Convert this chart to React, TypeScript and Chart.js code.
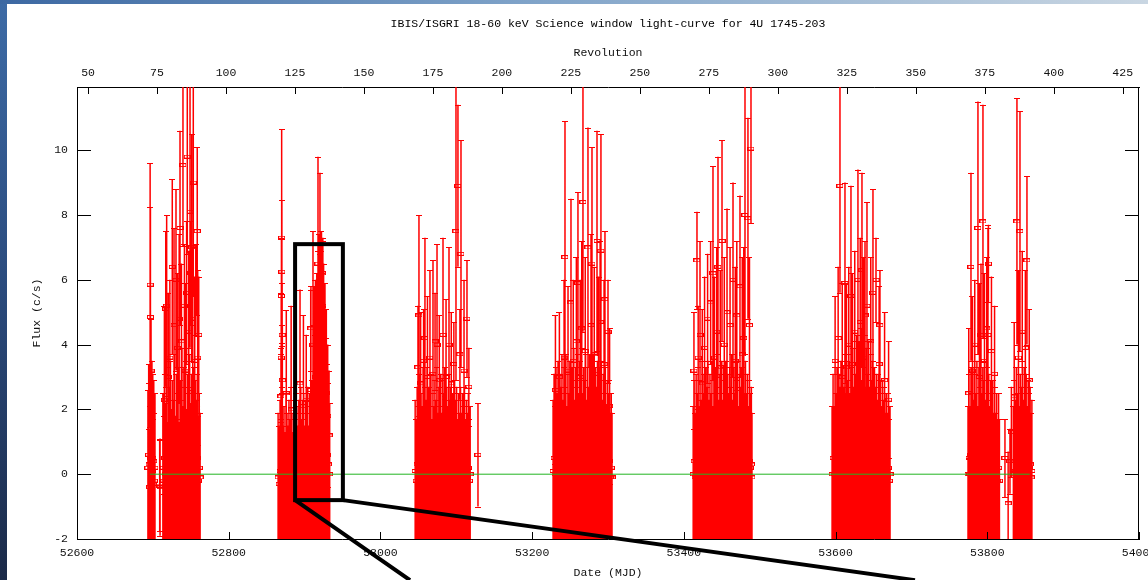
import React, { useEffect, useRef } from 'react';
import { Chart, registerables } from 'chart.js';

Chart.register(...registerables);

const TITLE = 'IBIS/ISGRI 18-60 keV Science window light-curve for 4U 1745-203';
const X_LABEL = 'Date (MJD)';
const X2_LABEL = 'Revolution';
const Y_LABEL = 'Flux (c/s)';

const mjdRange = [52600, 54000];
const revRange = [46.0, 430.9];
const fluxRange = [-2, 11.95];
const mjdStep = 200;
const revStep = 25;
const fluxStep = 2;

type Pt = [number, number, number]; // [MJD, flux (c/s), flux error]

const season1Base: Pt[] = [
  [52693.5, 0.2, 2.4], [52694.5, 0.6, 2.8], [52695.0, 0.3, 2.5], [52695.5, -0.4, 1.8],
  [52697.2, 0.5, 2.6], [52697.9, 0.0, 2.2], [52698.4, 0.7, 2.8], [52699.2, 0.1, 2.3],
  [52699.9, 0.5, 2.6], [52700.6, -0.3, 2.0], [52701.2, 0.4, 2.5], [52701.9, -0.2, 2.1],
  [52702.8, 0.2, 2.3], [52709.0, -0.35, 1.4], [52709.5, -0.4, 1.5],
  [52713.2, 0.2, 2.3], [52714.4, -0.2, 2.0], [52715.6, 0.5, 2.6], [52716.9, 0.0, 2.2],
  [52718.1, 0.6, 2.7], [52719.4, -0.3, 1.9], [52720.6, 0.3, 2.4], [52721.9, 0.1, 2.2],
  [52723.2, 0.7, 2.8], [52724.4, -0.1, 2.1], [52725.7, 0.4, 2.5], [52727.0, 0.0, 2.3],
  [52728.2, 0.8, 2.9], [52729.5, -0.2, 2.0], [52730.8, 0.5, 2.6], [52732.0, 0.2, 2.3],
  [52733.3, 0.6, 2.7], [52734.6, -0.3, 1.9], [52735.8, 0.4, 2.5], [52737.1, 0.1, 2.2],
  [52738.4, 0.9, 3.0], [52739.6, 0.0, 2.1], [52740.9, 0.6, 2.7], [52742.2, 0.3, 2.4],
  [52743.4, 0.7, 2.8], [52744.7, -0.1, 2.1], [52746.0, 0.5, 2.6], [52747.2, 0.2, 2.3],
  [52748.5, 0.8, 2.9], [52749.8, 0.0, 2.2], [52751.0, 0.5, 2.6], [52752.3, 0.3, 2.4],
  [52753.6, 0.6, 2.7], [52754.8, -0.1, 2.1], [52756.1, 0.4, 2.5], [52757.4, 0.1, 2.2],
  [52758.6, 0.5, 2.6], [52759.9, -0.2, 2.0], [52761.2, 0.2, 2.3], [52762.3, -0.1, 2.0],
];
const season1Peaks: Pt[] = [
  [52696.4, 5.85, 3.75], [52696.8, 4.85, 3.4], [52697.6, 3.2, 1.6], [52698.8, 2.3, 1.2],
  [52715.2, 2.3, 2.9], [52717.0, 5.1, 2.4], [52718.2, 5.2, 2.8], [52720.3, 3.0, 2.6],
  [52722.4, 3.6, 2.4], [52725.6, 6.4, 2.7], [52727.9, 4.6, 3.0], [52730.5, 6.0, 2.8],
  [52732.5, 3.9, 2.3], [52734.7, 4.8, 2.6], [52735.8, 7.6, 3.0], [52737.7, 4.1, 2.4],
  [52739.7, 9.54, 2.5], [52741.6, 5.2, 1.9], [52742.5, 3.2, 2.7], [52744.5, 5.6, 2.2],
  [52745.4, 9.8, 3.0], [52747.3, 4.4, 2.5], [52749.0, 8.1, 4.2], [52750.1, 6.2, 1.6],
  [52751.2, 7.0, 3.5], [52752.6, 4.8, 2.2], [52753.3, 9.0, 3.5], [52755.2, 3.5, 2.6],
  [52756.6, 5.7, 1.4], [52758.5, 7.5, 2.6], [52759.1, 3.6, 2.7], [52760.5, 4.3, 1.8],
];

const season2Base: Pt[] = [
  [52865.1, -0.1, 2.0], [52866.4, -0.3, 1.8], [52867.7, 0.1, 2.2], [52869.0, -0.2, 1.9],
  [52870.3, 0.2, 2.3], [52871.6, -0.3, 1.8], [52872.9, 0.0, 2.1], [52874.2, -0.4, 1.7],
  [52875.5, 0.2, 2.3], [52876.8, -0.1, 2.0], [52878.1, -0.3, 1.8], [52879.4, 0.1, 2.2],
  [52880.7, -0.2, 1.9], [52882.0, 0.3, 2.4], [52883.3, -0.1, 2.0], [52884.6, -0.4, 1.7],
  [52885.9, 0.1, 2.2], [52887.2, -0.2, 1.9], [52888.5, 0.2, 2.3], [52889.8, 0.0, 2.1],
  [52891.1, -0.3, 1.8], [52892.4, 0.1, 2.2], [52893.7, -0.1, 2.0], [52895.0, 0.3, 2.4],
  [52896.3, -0.2, 1.9], [52897.6, 0.1, 2.2], [52898.9, 0.2, 2.3], [52900.2, -0.3, 1.8],
  [52901.5, 0.1, 2.2], [52902.8, -0.1, 2.0], [52904.1, 0.3, 2.4], [52905.4, -0.3, 1.8],
  [52906.7, 0.2, 2.3], [52908.0, 0.0, 2.1], [52909.3, 0.4, 2.5], [52910.6, 0.1, 2.2],
  [52911.6, 1.2, 3.4], [52912.5, 2.6, 3.2], [52913.4, 1.0, 3.3], [52914.3, 3.0, 3.0],
  [52915.2, 1.5, 3.7], [52916.1, 3.4, 2.8], [52917.0, 1.3, 3.5], [52917.9, 3.8, 3.1],
  [52918.8, 1.8, 4.0], [52919.7, 3.6, 3.2], [52920.6, 1.6, 3.8], [52921.5, 4.0, 2.9],
  [52922.4, 2.0, 4.2], [52923.3, 3.2, 3.3], [52924.2, 1.4, 3.6], [52925.1, 3.5, 3.0],
  [52926.0, 1.2, 3.4], [52926.9, 2.8, 3.1], [52927.8, 1.0, 3.2], [52928.7, 2.5, 2.6],
  [52929.6, 0.6, 2.8], [52930.5, 1.8, 2.2], [52931.4, 0.3, 2.5], [52932.3, 1.2, 2.0],
  [52933.1, 0.0, 2.2],
];
const season2Peaks: Pt[] = [
  [52868.9, 2.4, 1.5], [52869.2, 3.6, 2.0], [52869.5, 5.5, 1.8], [52869.8, 7.3, 3.35],
  [52870.1, 6.25, 2.2], [52870.4, 4.3, 1.6], [52870.7, 2.9, 1.7], [52875.9, 2.5, 2.56],
  [52882.3, 2.0, 3.2], [52894.0, 2.8, 2.9], [52898.5, 2.1, 2.8], [52902.2, 2.3, 2.0],
  [52908.1, 2.6, 3.1], [52908.4, 4.5, 1.3], [52911.1, 4.0, 3.5], [52917.7, 6.5, 3.3],
  [52919.0, 5.5, 1.9], [52920.3, 5.8, 3.5], [52922.3, 4.9, 2.6], [52923.7, 6.2, 1.0],
  [52924.1, 5.2, 2.1],
];

const season3Base: Pt[] = [
  [53045.8, 0.1, 2.2], [53047.1, -0.2, 1.9], [53048.4, 0.3, 2.4], [53049.7, 0.0, 2.1],
  [53051.0, 0.5, 2.6], [53052.3, -0.3, 1.8], [53053.6, 0.2, 2.3], [53054.9, 0.0, 2.1],
  [53056.2, 0.6, 2.7], [53057.5, -0.1, 2.0], [53058.8, 0.3, 2.4], [53060.1, 0.1, 2.2],
  [53061.4, 0.6, 2.7], [53062.7, -0.2, 1.9], [53064.0, 0.3, 2.4], [53065.3, 0.0, 2.1],
  [53066.6, 0.5, 2.6], [53067.9, -0.2, 1.9], [53069.2, 0.2, 2.3], [53070.5, 0.0, 2.1],
  [53071.8, 0.4, 2.5], [53073.1, 0.1, 2.2], [53074.4, 0.6, 2.7], [53075.7, -0.1, 2.0],
  [53077.0, 0.3, 2.4], [53078.3, 0.0, 2.1], [53079.6, 0.5, 2.6], [53080.9, -0.1, 2.0],
  [53082.2, 0.4, 2.5], [53083.5, 0.2, 2.3], [53084.8, 0.6, 2.7], [53086.1, -0.2, 1.9],
  [53087.4, 0.3, 2.4], [53088.7, 0.0, 2.1], [53090.0, 0.5, 2.6], [53091.3, 0.1, 2.2],
  [53092.6, 0.3, 2.4], [53093.9, -0.1, 2.0], [53095.2, 0.2, 2.3], [53096.5, 0.0, 2.1],
  [53097.8, 0.4, 2.5], [53099.1, 0.1, 2.2], [53100.4, 0.3, 2.4], [53101.7, -0.2, 1.9],
  [53103.0, 0.2, 2.3], [53104.3, -0.1, 2.0], [53105.6, 0.3, 2.4], [53106.9, -0.1, 2.0],
  [53108.2, 0.2, 2.3], [53109.5, 0.0, 2.1], [53110.8, 0.3, 2.4], [53112.1, -0.2, 1.9],
  [53113.4, 0.1, 2.2], [53114.7, -0.1, 2.0], [53116.0, 0.2, 2.3], [53117.3, -0.2, 1.9],
  [53118.3, 0.0, 2.1],
];
const season3Peaks: Pt[] = [
  [53049.5, 3.3, 1.9], [53050.8, 4.9, 3.1], [53053.0, 2.8, 2.2], [53056.9, 3.5, 1.6],
  [53058.7, 4.2, 3.1], [53062.0, 3.0, 2.5], [53065.3, 3.6, 2.7], [53069.3, 3.1, 3.5],
  [53072.0, 4.1, 1.5], [53074.6, 4.0, 3.1], [53077.6, 2.9, 2.0], [53082.5, 4.3, 3.0],
  [53086.5, 3.0, 2.4], [53090.4, 4.0, 3.0], [53093.4, 2.8, 2.2], [53096.8, 3.4, 1.3],
  [53099.6, 7.5, 4.6], [53102.2, 8.9, 2.5], [53104.8, 3.7, 1.4], [53106.2, 6.8, 3.5],
  [53110.2, 3.2, 2.8], [53114.1, 4.8, 1.8], [53116.6, 2.7, 1.2], [53128.6, 0.6, 1.6],
];

const season4Base: Pt[] = [
  [53227.6, 0.1, 2.2], [53228.9, 0.5, 2.6], [53230.2, 0.0, 2.1], [53231.5, 0.6, 2.7],
  [53232.8, 0.2, 2.3], [53234.1, 0.7, 2.8], [53235.4, 0.1, 2.2], [53236.7, 0.5, 2.6],
  [53238.0, 0.3, 2.4], [53239.3, 0.8, 2.9], [53240.6, 0.1, 2.2], [53241.9, 0.6, 2.7],
  [53243.2, 0.3, 2.4], [53244.5, 0.8, 2.9], [53245.8, 0.0, 2.1], [53247.1, 0.5, 2.6],
  [53248.4, 0.2, 2.3], [53249.7, 0.7, 2.8], [53251.0, 0.2, 2.3], [53252.3, 0.6, 2.7],
  [53253.6, 0.4, 2.5], [53254.9, 0.9, 3.0], [53256.2, 0.1, 2.2], [53257.5, 0.6, 2.7],
  [53258.8, 0.3, 2.4], [53260.1, 0.8, 2.9], [53261.4, 0.2, 2.3], [53262.7, 0.7, 2.8],
  [53264.0, 0.4, 2.5], [53265.3, 0.9, 3.0], [53266.6, 0.2, 2.3], [53267.9, 0.6, 2.7],
  [53269.2, 0.4, 2.5], [53270.5, 0.8, 2.9], [53271.8, 0.1, 2.2], [53273.1, 0.6, 2.7],
  [53274.4, 0.3, 2.4], [53275.7, 0.8, 2.9], [53277.0, 0.2, 2.3], [53278.3, 0.7, 2.8],
  [53279.6, 0.4, 2.5], [53280.9, 0.8, 2.9], [53282.2, 0.0, 2.1], [53283.5, 0.6, 2.7],
  [53284.8, 0.3, 2.4], [53286.1, 0.7, 2.8], [53287.4, 0.2, 2.3], [53288.7, 0.6, 2.7],
  [53290.0, 0.4, 2.5], [53291.3, 0.7, 2.8], [53292.6, 0.1, 2.2], [53293.9, 0.5, 2.6],
  [53295.2, 0.2, 2.3], [53296.5, 0.6, 2.7], [53297.8, 0.0, 2.1], [53299.1, 0.4, 2.5],
  [53300.4, 0.2, 2.3], [53301.7, 0.4, 2.5], [53303.0, -0.1, 2.0], [53304.3, 0.2, 2.3],
  [53305.3, -0.1, 2.0],
];
const season4Peaks: Pt[] = [
  [53230.7, 2.6, 2.3], [53235.9, 3.0, 2.0], [53242.1, 3.6, 2.4], [53243.3, 6.7, 4.2],
  [53247.3, 3.2, 2.6], [53251.2, 5.3, 3.2], [53254.2, 3.5, 2.5], [53258.3, 4.1, 2.6],
  [53260.4, 5.9, 2.8], [53263.4, 3.0, 3.0], [53265.4, 4.5, 2.7], [53267.0, 8.4, 4.0],
  [53270.0, 3.8, 2.9], [53273.6, 7.0, 3.7], [53277.6, 4.6, 2.8], [53278.9, 6.5, 3.6],
  [53281.9, 3.7, 2.7], [53285.5, 7.2, 3.4], [53287.5, 3.1, 3.0], [53289.6, 4.7, 2.5],
  [53290.7, 6.9, 3.6], [53294.8, 3.4, 2.6], [53296.0, 5.4, 2.1], [53300.0, 4.4, 1.6],
  [53302.1, 2.1, 2.4],
];

const season5Base: Pt[] = [
  [53412.3, 0.0, 2.1], [53413.6, 0.4, 2.5], [53414.9, -0.1, 2.0], [53416.2, 0.5, 2.6],
  [53417.5, 0.2, 2.3], [53418.8, 0.6, 2.7], [53420.1, 0.0, 2.1], [53421.4, 0.4, 2.5],
  [53422.7, 0.1, 2.2], [53424.0, 0.7, 2.8], [53425.3, 0.2, 2.3], [53426.6, 0.5, 2.6],
  [53427.9, 0.0, 2.1], [53429.2, 0.6, 2.7], [53430.5, 0.3, 2.4], [53431.8, 0.7, 2.8],
  [53433.1, 0.1, 2.2], [53434.4, 0.5, 2.6], [53435.7, 0.2, 2.3], [53437.0, 0.7, 2.8],
  [53438.3, 0.0, 2.1], [53439.6, 0.4, 2.5], [53440.9, 0.2, 2.3], [53442.2, 0.6, 2.7],
  [53443.5, 0.3, 2.4], [53444.8, 0.8, 2.9], [53446.1, 0.1, 2.2], [53447.4, 0.5, 2.6],
  [53448.7, 0.2, 2.3], [53450.0, 0.7, 2.8], [53451.3, 0.1, 2.2], [53452.6, 0.6, 2.7],
  [53453.9, 0.4, 2.5], [53455.2, 0.7, 2.8], [53456.5, 0.0, 2.1], [53457.8, 0.5, 2.6],
  [53459.1, 0.2, 2.3], [53460.4, 0.6, 2.7], [53461.7, 0.3, 2.4], [53463.0, 0.8, 2.9],
  [53464.3, 0.1, 2.2], [53465.6, 0.6, 2.7], [53466.9, 0.2, 2.3], [53468.2, 0.7, 2.8],
  [53469.5, 0.4, 2.5], [53470.8, 0.7, 2.8], [53472.1, 0.0, 2.1], [53473.4, 0.5, 2.6],
  [53474.7, 0.3, 2.4], [53476.0, 0.6, 2.7], [53477.3, 0.1, 2.2], [53478.6, 0.6, 2.7],
  [53479.9, 0.2, 2.3], [53481.2, 0.7, 2.8], [53482.5, 0.2, 2.3], [53483.8, 0.5, 2.6],
  [53485.1, 0.0, 2.1], [53486.4, 0.4, 2.5], [53487.7, 0.2, 2.3], [53489.0, 0.3, 2.4],
  [53489.8, -0.1, 2.0],
];
const season5Peaks: Pt[] = [
  [53413.3, 3.2, 1.8], [53417.3, 6.6, 1.5], [53418.9, 3.6, 1.6], [53421.3, 4.3, 2.9],
  [53424.3, 2.8, 2.3], [53427.3, 3.9, 2.2], [53431.3, 4.8, 2.0], [53435.3, 5.3, 1.9],
  [53438.4, 6.2, 3.3], [53440.4, 3.6, 2.5], [53443.4, 4.4, 2.6], [53445.0, 6.4, 3.4],
  [53448.0, 3.3, 3.0], [53450.3, 7.2, 3.1], [53453.3, 4.0, 2.7], [53456.9, 5.0, 3.2],
  [53460.9, 4.6, 2.4], [53464.8, 6.0, 3.0], [53467.8, 3.5, 2.9], [53469.8, 4.9, 2.3],
  [53474.0, 5.8, 2.8], [53477.0, 3.7, 3.0], [53479.0, 4.2, 2.8], [53480.6, 8.0, 4.3],
  [53484.5, 7.9, 3.1], [53486.5, 4.6, 2.1], [53488.5, 10.05, 2.3],
];

const season6Base: Pt[] = [
  [53595.4, 0.0, 2.1], [53596.7, 0.5, 2.6], [53598.0, 0.0, 2.1], [53599.3, 0.6, 2.7],
  [53600.6, 0.2, 2.3], [53601.9, 0.6, 2.7], [53603.2, 0.1, 2.2], [53604.5, 0.5, 2.6],
  [53605.8, 0.3, 2.4], [53607.1, 0.7, 2.8], [53608.4, 0.1, 2.2], [53609.7, 0.6, 2.7],
  [53611.0, 0.3, 2.4], [53612.3, 0.8, 2.9], [53613.6, 0.2, 2.3], [53614.9, 0.7, 2.8],
  [53616.2, 0.4, 2.5], [53617.5, 0.8, 2.9], [53618.8, 0.2, 2.3], [53620.1, 0.6, 2.7],
  [53621.4, 0.3, 2.4], [53622.7, 0.9, 3.0], [53624.0, 0.3, 2.4], [53625.3, 1.0, 3.1],
  [53626.6, 0.5, 2.6], [53627.9, 1.1, 3.2], [53629.2, 0.3, 2.4], [53630.5, 1.0, 3.1],
  [53631.8, 0.6, 2.7], [53633.1, 1.2, 3.3], [53634.4, 0.4, 2.5], [53635.7, 1.0, 3.1],
  [53637.0, 0.6, 2.7], [53638.3, 1.1, 3.2], [53639.6, 0.3, 2.4], [53640.9, 0.9, 3.0],
  [53642.2, 0.5, 2.6], [53643.5, 1.0, 3.1], [53644.8, 0.3, 2.4], [53646.1, 0.8, 2.9],
  [53647.4, 0.4, 2.5], [53648.7, 0.7, 2.8], [53650.0, 0.2, 2.3], [53651.3, 0.6, 2.7],
  [53652.6, 0.3, 2.4], [53653.9, 0.5, 2.6], [53655.2, 0.1, 2.2], [53656.5, 0.5, 2.6],
  [53657.8, 0.2, 2.3], [53659.1, 0.4, 2.5], [53660.4, 0.0, 2.1], [53661.7, 0.4, 2.5],
  [53663.0, 0.1, 2.2], [53664.3, 0.3, 2.4], [53665.6, -0.1, 2.0], [53666.9, 0.2, 2.3],
  [53668.2, -0.1, 2.0], [53669.5, 0.2, 2.3], [53670.8, -0.2, 1.9], [53671.8, 0.0, 2.1],
];
const season6Peaks: Pt[] = [
  [53599.4, 3.5, 2.0], [53603.4, 4.2, 2.2], [53605.8, 8.9, 3.3], [53608.8, 3.0, 2.9],
  [53612.4, 5.9, 3.1], [53614.4, 3.3, 2.6], [53617.4, 4.0, 2.4], [53620.3, 5.5, 3.4],
  [53622.3, 3.4, 2.8], [53625.3, 4.4, 2.5], [53629.5, 6.0, 3.4], [53632.5, 4.7, 2.6],
  [53634.8, 6.3, 3.0], [53636.8, 3.6, 3.1], [53638.8, 4.9, 2.3], [53641.4, 5.2, 3.2],
  [53646.4, 4.1, 2.6], [53649.3, 5.6, 3.2], [53653.3, 6.0, 1.3], [53657.4, 3.4, 2.4],
  [53658.5, 4.6, 1.7], [53664.6, 2.9, 2.1], [53669.9, 2.3, 1.8],
];

const season7Base: Pt[] = [
  [53774.6, 0.0, 2.1], [53775.9, 0.5, 2.6], [53777.2, 0.0, 2.1], [53778.5, 0.6, 2.7],
  [53779.8, 0.2, 2.3], [53781.1, 0.6, 2.7], [53782.4, 0.1, 2.2], [53783.7, 0.5, 2.6],
  [53785.0, 0.2, 2.3], [53786.3, 0.7, 2.8], [53787.6, 0.0, 2.1], [53788.9, 0.6, 2.7],
  [53790.2, 0.3, 2.4], [53791.5, 0.7, 2.8], [53792.8, 0.2, 2.3], [53794.1, 0.6, 2.7],
  [53795.4, 0.4, 2.5], [53796.7, 0.7, 2.8], [53798.0, 0.1, 2.2], [53799.3, 0.6, 2.7],
  [53800.6, 0.2, 2.3], [53801.9, 0.5, 2.6], [53803.2, 0.0, 2.1], [53804.5, 0.4, 2.5],
  [53805.8, 0.2, 2.3], [53807.1, 0.4, 2.5], [53808.4, -0.1, 2.0], [53809.7, 0.3, 2.4],
  [53811.0, -0.1, 2.0], [53812.3, 0.2, 2.3], [53813.6, -0.2, 1.9], [53814.9, 0.2, 2.3],
  [53816.0, -0.2, 1.9], [53823.3, 0.5, 1.2], [53827.5, -0.9, 1.6], [53829.9, 0.4, 1.0],
  [53831.8, 1.3, 1.4], [53834.4, 0.0, 2.1], [53835.7, 0.4, 2.5], [53837.0, 0.1, 2.2],
  [53838.3, 0.6, 2.7], [53839.6, 0.2, 2.3], [53840.9, 0.6, 2.7], [53842.2, 0.0, 2.1],
  [53843.5, 0.5, 2.6], [53844.8, 0.3, 2.4], [53846.1, 0.7, 2.8], [53847.4, 0.1, 2.2],
  [53848.7, 0.6, 2.7], [53850.0, 0.2, 2.3], [53851.3, 0.5, 2.6], [53852.6, 0.0, 2.1],
  [53853.9, 0.4, 2.5], [53855.2, 0.2, 2.3], [53856.5, 0.3, 2.4], [53857.8, -0.1, 2.0],
  [53858.8, 0.1, 2.2],
];
const season7Peaks: Pt[] = [
  [53775.6, 2.5, 2.0], [53778.5, 6.4, 2.9], [53780.5, 3.2, 2.3], [53783.5, 4.0, 2.0],
  [53787.7, 7.6, 3.9], [53789.7, 3.0, 2.9], [53791.7, 4.3, 2.2], [53794.3, 7.8, 3.6],
  [53796.3, 3.5, 2.7], [53799.3, 4.5, 2.2], [53800.9, 4.3, 3.3], [53801.5, 6.5, 1.2],
  [53805.5, 3.8, 2.3], [53809.6, 3.1, 2.1], [53835.5, 2.4, 2.3], [53839.1, 7.8, 3.8],
  [53841.1, 3.6, 2.7], [53843.1, 7.5, 3.7], [53846.1, 4.4, 2.5], [53850.2, 3.9, 2.4],
  [53852.3, 6.6, 2.6], [53855.3, 2.9, 2.2],
];

// constant (zero) level over the data span
const zeroLineMjd = [52696, 53856];
const zeroLineFlux = [0, 0];

// slide annotation: zoom box (data coords) and rays leading out of the figure
const zoomBoxMjd = [52887.5, 52950.5];
const zoomBoxFlux = [-0.8, 7.1];
const zoomRayEndMjd = [53039, 53704.7];
const zoomRayEndFlux = [-3.27, -3.27];

const RED = '#ff0000';
const GREEN = '#22b422';
const MONO = 'Liberation Mono';

const allPoints: Pt[] = [
  ...season1Base, ...season1Peaks, ...season2Base, ...season2Peaks,
  ...season3Base, ...season3Peaks, ...season4Base, ...season4Peaks,
  ...season5Base, ...season5Peaks, ...season6Base, ...season6Peaks,
  ...season7Base, ...season7Peaks,
];

function makeMarker(): HTMLCanvasElement {
  const c = document.createElement('canvas');
  c.width = 7;
  c.height = 4;
  const g = c.getContext('2d')!;
  g.strokeStyle = RED;
  g.lineWidth = 1;
  g.strokeRect(0.5, 0.5, 6, 3);
  return c;
}

const errorBarPlugin = {
  id: 'errorBars',
  beforeDatasetsDraw(chart: any) {
    const { ctx, chartArea: a, scales } = chart;
    const x = scales.x;
    const y = scales.y;
    ctx.save();
    ctx.beginPath();
    ctx.rect(a.left, a.top, a.right - a.left, a.bottom - a.top);
    ctx.clip();
    ctx.strokeStyle = RED;
    ctx.lineWidth = 1.5;
    ctx.beginPath();
    for (const [m, f, e] of allPoints) {
      const px = x.getPixelForValue(m);
      ctx.moveTo(px, y.getPixelForValue(f + e));
      ctx.lineTo(px, y.getPixelForValue(f - e));
    }
    ctx.stroke();
    ctx.lineWidth = 1;
    ctx.beginPath();
    for (const [m, f, e] of allPoints) {
      const px = Math.round(x.getPixelForValue(m));
      const top = Math.round(y.getPixelForValue(f + e)) + 0.5;
      const bot = Math.round(y.getPixelForValue(f - e)) + 0.5;
      ctx.moveTo(px - 3, top);
      ctx.lineTo(px + 3, top);
      ctx.moveTo(px - 3, bot);
      ctx.lineTo(px + 3, bot);
    }
    ctx.stroke();
    ctx.restore();
  },
};

const ticksPlugin = {
  id: 'inwardTicks',
  afterDatasetsDraw(chart: any) {
    const { ctx, chartArea: a, scales } = chart;
    ctx.save();
    ctx.strokeStyle = '#000';
    ctx.lineWidth = 1;
    ctx.beginPath();
    for (const t of scales.x.ticks) {
      const px = Math.round(scales.x.getPixelForValue(t.value)) + 0.5;
      ctx.moveTo(px, a.bottom);
      ctx.lineTo(px, a.bottom - 7);
    }
    for (const t of scales.x2.ticks) {
      const px = Math.round(scales.x2.getPixelForValue(t.value)) + 0.5;
      ctx.moveTo(px, a.top);
      ctx.lineTo(px, a.top + 7);
    }
    for (const t of scales.y.ticks) {
      const py = Math.round(scales.y.getPixelForValue(t.value)) + 0.5;
      ctx.moveTo(a.left, py);
      ctx.lineTo(a.left + 14, py);
      ctx.moveTo(a.right, py);
      ctx.lineTo(a.right - 14, py);
    }
    ctx.stroke();
    ctx.beginPath();
    ctx.moveTo(Math.round(a.right) - 0.5, a.top);
    ctx.lineTo(Math.round(a.right) - 0.5, a.bottom);
    ctx.stroke();
    ctx.restore();
  },
};

const annotationPlugin = {
  id: 'zoomAnnotation',
  afterDraw(chart: any) {
    const { ctx, scales } = chart;
    const x = scales.x;
    const y = scales.y;
    const x0 = x.getPixelForValue(zoomBoxMjd[0]);
    const x1 = x.getPixelForValue(zoomBoxMjd[1]);
    const y0 = y.getPixelForValue(zoomBoxFlux[0]);
    const y1 = y.getPixelForValue(zoomBoxFlux[1]);
    ctx.save();
    ctx.strokeStyle = '#000';
    ctx.lineWidth = 4;
    ctx.lineJoin = 'miter';
    ctx.strokeRect(x0, y1, x1 - x0, y0 - y1);
    ctx.beginPath();
    ctx.moveTo(x0, y0);
    ctx.lineTo(x.getPixelForValue(zoomRayEndMjd[0]), y.getPixelForValue(zoomRayEndFlux[0]));
    ctx.moveTo(x1, y0);
    ctx.lineTo(x.getPixelForValue(zoomRayEndMjd[1]), y.getPixelForValue(zoomRayEndFlux[1]));
    ctx.stroke();
    ctx.restore();
  },
};

export default function App() {
  const ref = useRef<HTMLCanvasElement>(null);

  useEffect(() => {
    const canvas = ref.current;
    if (!canvas) return;
    const tickFont = { family: MONO, size: 11.5, weight: 'normal' };
    const titleFont = { family: MONO, size: 11.5, lineHeight: 1.2, weight: 'normal' };
    const noSidePadding = (s: any) => { s.paddingLeft = 0; s.paddingRight = 0; };
    const chart = new Chart(canvas, {
      type: 'scatter',
      data: {
        datasets: [
          {
            label: 'zero',
            data: zeroLineMjd.map((m, i) => ({ x: m, y: zeroLineFlux[i] })),
            showLine: true,
            borderColor: GREEN,
            borderWidth: 1,
            pointRadius: 0,
            order: 0,
            clip: 0,
          } as any,
          {
            label: 'flux',
            data: allPoints.map(([m, f]) => ({ x: m, y: f })),
            pointStyle: makeMarker(),
            pointRadius: 3,
            borderColor: RED,
            backgroundColor: RED,
            order: 1,
            clip: 0,
          } as any,
        ],
      },
      options: {
        animation: false,
        responsive: false,
        devicePixelRatio: 1,
        events: [],
        layout: { padding: { left: 0, right: 9, top: 0, bottom: 0 } },
        plugins: {
          legend: { display: false },
          tooltip: { enabled: false },
          title: {
            display: true,
            text: TITLE,
            fullSize: false,
            color: '#000',
            font: titleFont,
            padding: { top: 17.2, bottom: 0 },
          },
        },
        scales: {
          x: {
            type: 'linear',
            position: 'bottom',
            min: mjdRange[0],
            max: mjdRange[1],
            afterFit: (s: any) => { s.height = 41; noSidePadding(s); },
            grid: { display: false, drawTicks: false },
            border: { display: true, color: '#000', width: 1 },
            ticks: {
              stepSize: mjdStep,
              includeBounds: false,
              autoSkip: false,
              maxRotation: 0,
              padding: 7,
              color: '#111',
              font: tickFont,
              callback: (v: any) => String(v),
            },
            title: { display: true, text: X_LABEL, color: '#111', font: titleFont, padding: { top: 0, bottom: 0 } },
          },
          x2: {
            type: 'linear',
            position: 'top',
            axis: 'x',
            min: revRange[0],
            max: revRange[1],
            afterFit: (s: any) => { s.height = 56; noSidePadding(s); },
            grid: { display: false, drawTicks: false },
            border: { display: true, color: '#000', width: 1 },
            ticks: {
              stepSize: revStep,
              includeBounds: false,
              autoSkip: false,
              maxRotation: 0,
              padding: 7,
              color: '#111',
              font: tickFont,
              callback: (v: any) => String(v),
            },
            title: { display: true, text: X2_LABEL, color: '#111', font: titleFont, padding: { top: 15.1, bottom: 0 } },
          },
          y: {
            type: 'linear',
            position: 'left',
            min: fluxRange[0],
            max: fluxRange[1],
            afterFit: (s: any) => { s.width = 77; s.paddingTop = 0; s.paddingBottom = 0; },
            grid: { display: false, drawTicks: false },
            border: { display: true, color: '#000', width: 1 },
            ticks: {
              stepSize: fluxStep,
              includeBounds: false,
              autoSkip: false,
              padding: 9,
              color: '#111',
              font: tickFont,
              callback: (v: any) => String(v),
            },
            title: { display: true, text: Y_LABEL, color: '#111', font: titleFont, padding: { top: 30, bottom: 0 } },
          },
        },
      } as any,
      plugins: [errorBarPlugin, ticksPlugin, annotationPlugin],
    });
    return () => chart.destroy();
  }, []);

  return (
    <div style={{ position: 'fixed', left: 0, top: 0, width: 1148, height: 580, overflow: 'hidden', background: '#fff' }}>
      <div style={{ position: 'absolute', left: 0, top: 0, width: 7, height: 580, background: 'linear-gradient(to bottom, #3d6ba6, #2a4a7c 50%, #1b2a48)' }} />
      <div style={{ position: 'absolute', left: 0, top: 0, width: 1148, height: 4, background: 'linear-gradient(to right, #3c68a2, #7ea2c8 45%, #c9d6e2)' }} />
      <canvas ref={ref} width={1148} height={580} style={{ position: 'absolute', left: 0, top: 0, width: 1148, height: 580 }} />
    </div>
  );
}
